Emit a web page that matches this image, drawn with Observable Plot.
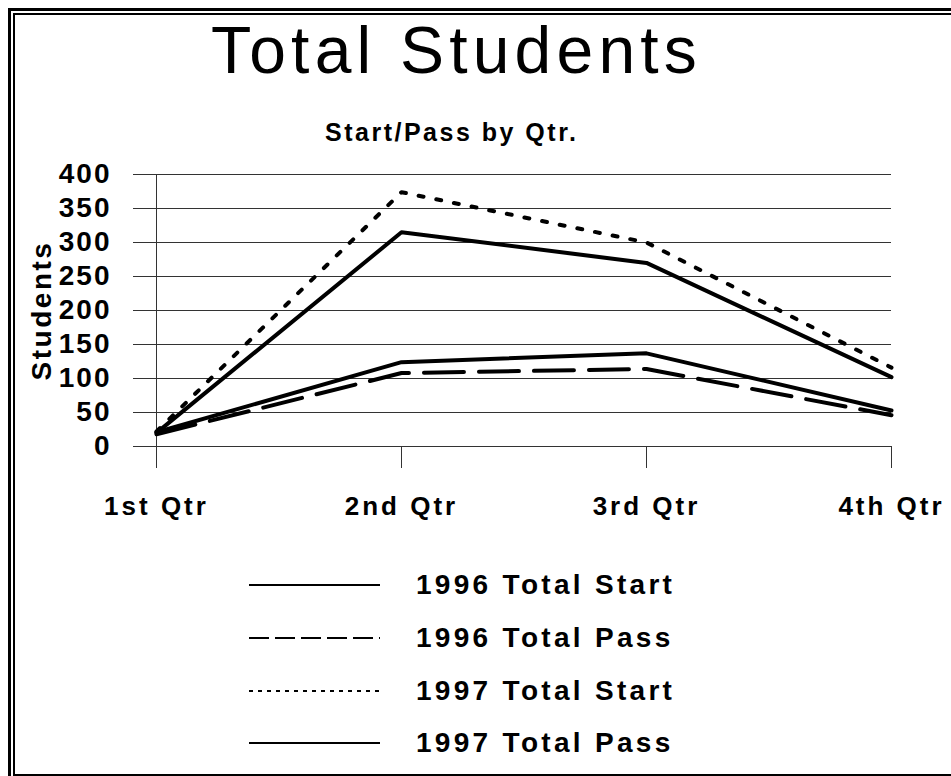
<!DOCTYPE html>
<html>
<head>
<meta charset="utf-8">
<script src="https://cdn.jsdelivr.net/npm/d3@7"></script>
<script src="https://cdn.jsdelivr.net/npm/@observablehq/plot@0.6"></script>
<style>
  html, body { margin: 0; padding: 0; background: #fff; }
  #root { position: relative; width: 951px; height: 776px; overflow: hidden; background: #fff;
          font-family: "Liberation Sans", Arial, sans-serif; color: #000; }
  .abs { position: absolute; }
  #title { left: 211px; top: 17px; font-size: 66px; font-weight: normal; letter-spacing: 5.2px; line-height: 1; white-space: nowrap; }
  #subtitle { left: 325px; top: 120px; font-size: 25px; font-weight: bold; letter-spacing: 2.5px; line-height: 1; white-space: nowrap; }
  #chart { left: 0; top: 150px; }
  #chart svg text { font-family: "Liberation Sans", Arial, sans-serif; font-weight: bold; }
  g[aria-label="x-axis tick label"] text { letter-spacing: 3px; }
  g[aria-label="y-axis tick label"] text { letter-spacing: 2px; }
  g[aria-label="y-axis label"] text { letter-spacing: 2.5px; }
  .legrow { position: absolute; left: 249px; height: 40px; display: flex; align-items: center; }
  .legrow svg { width: 131px; height: 10px; margin-right: 36px; }
  .legrow span { font-size: 28px; font-weight: bold; letter-spacing: 3.3px; white-space: nowrap; }
</style>
</head>
<body>
<div id="root">
  <div class="abs" style="left:8px;top:8px;width:960px;height:3px;background:#000"></div>
  <div class="abs" style="left:8px;top:8px;width:3px;height:780px;background:#000"></div>
  <div class="abs" style="left:13px;top:13px;width:960px;height:2px;background:#000"></div>
  <div class="abs" style="left:13px;top:13px;width:2px;height:780px;background:#000"></div>
  <div class="abs" style="left:13px;top:774px;width:960px;height:2px;background:#000"></div>
  <div id="title" class="abs">Total Students</div>
  <div id="subtitle" class="abs">Start/Pass by Qtr.</div>
  <div id="chart" class="abs"></div>
  <div id="legend"></div>
</div>
<script>
const quarters = ["1st Qtr", "2nd Qtr", "3rd Qtr", "4th Qtr"];
const start1996 = [20, 315, 270, 102];
const pass1996 = [18, 108, 114, 46];
const start1997 = [22, 374, 300, 116];
const pass1997 = [21, 124, 137, 53];
const yTicks = [0, 50, 100, 150, 200, 250, 300, 350, 400];
const seriesNames = ["1996 Total Start", "1996 Total Pass", "1997 Total Start", "1997 Total Pass"];
const seriesValues = [start1996, pass1996, start1997, pass1997];
const chartDashes = [null, "40,15", "5,13", null];
const legendDashes = [null, "20,6", "4,5", null];

const rows = seriesValues.map((vals, i) => quarters.map((q, j) => ({series: seriesNames[i], quarter: q, value: vals[j]})));

const gridColor = "#333";

const plot = Plot.plot({
  width: 951,
  height: 390,
  marginLeft: 155,
  marginRight: 60,
  marginTop: 24,
  marginBottom: 94,
  style: {fontFamily: "Liberation Sans, Arial, sans-serif", fontWeight: "bold", background: "transparent", overflow: "visible"},
  x: {type: "point", domain: quarters, padding: 0},
  y: {domain: [0, 400]},
  marks: [
    Plot.gridY(yTicks, {stroke: gridColor, strokeOpacity: 1, strokeWidth: 1}),
    Plot.axisY(yTicks, {tickSize: 22, tickPadding: 22, fontSize: 28, stroke: gridColor, label: "Students", labelAnchor: "center", labelArrow: "none", labelOffset: 124, tickFormat: d => String(d)}),
    Plot.axisX({tickSize: 22, tickPadding: 28, fontSize: 26, stroke: gridColor, label: null}),
    Plot.ruleX([quarters[0]], {y1: 0, y2: 400, stroke: gridColor, strokeWidth: 1}),
    ...rows.map((data, i) => Plot.line(data, {
      x: "quarter", y: "value",
      stroke: "black", strokeWidth: 4,
      strokeLinejoin: "round", strokeLinecap: "round",
      strokeDasharray: chartDashes[i] || undefined
    }))
  ]
});
document.getElementById("chart").appendChild(plot);

// Legend
const legend = document.getElementById("legend");
const rowCenters = [585, 638, 691, 743];
seriesNames.forEach((name, i) => {
  const row = document.createElement("div");
  row.className = "legrow";
  row.style.top = (rowCenters[i] - 20) + "px";
  const dash = legendDashes[i] ? ` stroke-dasharray="${legendDashes[i]}"` : "";
  row.innerHTML = `<svg viewBox="0 0 131 10"><line x1="0" y1="5" x2="131" y2="5" stroke="#000" stroke-width="2"${dash}/></svg><span>${name}</span>`;
  legend.appendChild(row);
});
</script>
</body>
</html>
